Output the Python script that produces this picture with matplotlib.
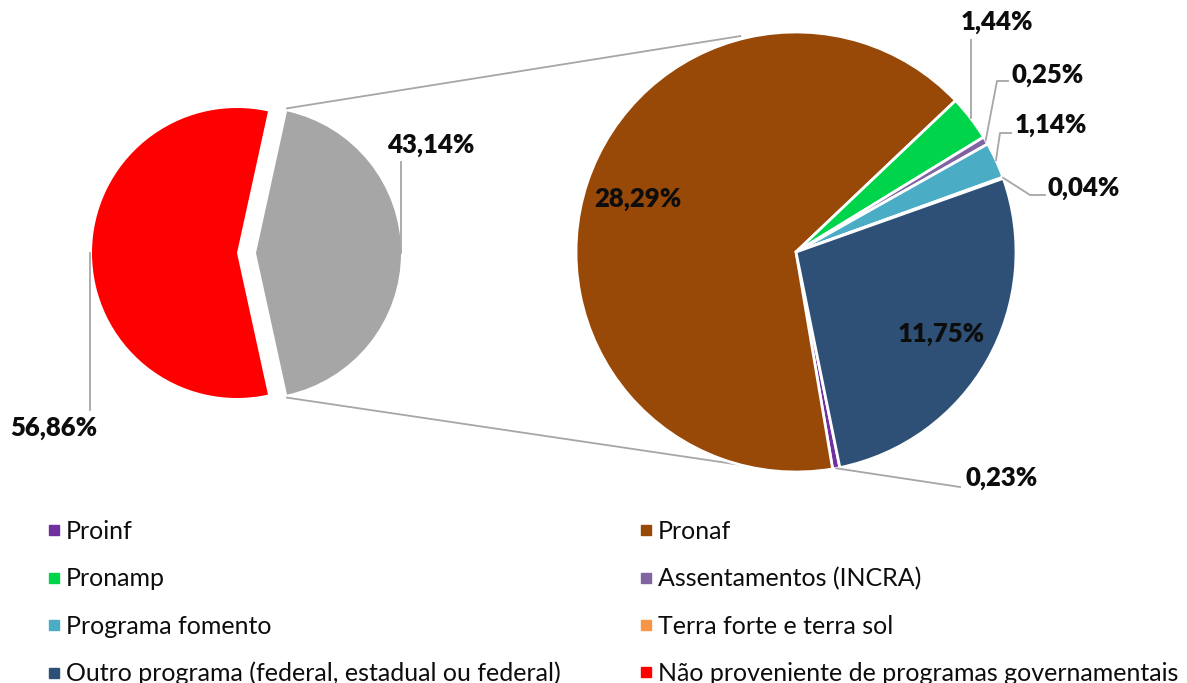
import numpy as np
import matplotlib.pyplot as plt
from matplotlib.lines import Line2D

plt.rcParams["font.family"] = ["Lato", "DejaVu Sans"]

W, H = 1187, 683

MAIN_LABELS = ["Não proveniente de programas governamentais", "Programas governamentais"]
MAIN_VALUES = [56.86, 43.14]
MAIN_COLORS = ["#FF0000", "#A6A6A6"]

SUB_LABELS = [
    "Proinf",
    "Pronaf",
    "Pronamp",
    "Assentamentos (INCRA)",
    "Programa fomento",
    "Terra forte e terra sol",
    "Outro programa (federal, estadual ou federal)",
]
SUB_VALUES = [0.23, 28.29, 1.44, 0.25, 1.14, 0.04, 11.75]
SUB_COLORS = ["#7030A0", "#984807", "#00D44A", "#8064A2", "#4BACC6", "#F79646", "#2E5077"]

LEADER = "#A6A6A6"


def fmt(v):
    return f"{v:.2f}%".replace(".", ",")


def py(y):
    # pixel row -> data y
    return H - y


def on_circle(cx, cy, r, ang):
    a = np.deg2rad(ang)
    return cx + r * np.cos(a), cy + r * np.sin(a)


fig = plt.figure(figsize=(W / 100, H / 100), dpi=100)
ax = fig.add_axes([0, 0, 1, 1])

# main pie (left)
main_r = 145
start = MAIN_VALUES[1] / sum(MAIN_VALUES) * 360 / 2
main_w, _ = ax.pie(MAIN_VALUES, colors=MAIN_COLORS, startangle=start,
                   center=(237, py(253)), radius=main_r, explode=[0, 19],
                   wedgeprops=dict(linewidth=0))

# secondary pie (right)
sub_r = 220
sub_c = (796, py(252))
sub_w, _ = ax.pie(SUB_VALUES, colors=SUB_COLORS, startangle=-78.5, counterclock=False,
                  center=sub_c, radius=sub_r,
                  wedgeprops=dict(edgecolor="white", linewidth=2))


def mid(w):
    return (w.theta1 + w.theta2) / 2


# connector lines between the pies
gray = main_w[1]
gx, gy = gray.center
top0 = on_circle(gx, gy, main_r, gray.theta2)
bot0 = on_circle(gx, gy, main_r, gray.theta1)
top1 = on_circle(*sub_c, sub_r + 3, 104.5)
bot1 = on_circle(*sub_c, sub_r, -104.5)
ax.plot([top0[0], top1[0]], [top0[1] + 3, top1[1]], color=LEADER, lw=1.3, zorder=0)
ax.plot([bot0[0], bot1[0]], [bot0[1] - 3, bot1[1]], color=LEADER, lw=1.3, zorder=0)

lbl = dict(fontsize=18.5, fontweight="heavy", color="#0D0D0D", va="center")

# left pie labels
red = main_w[0]
rx, ry = on_circle(*red.center, main_r, 180)
ax.plot([rx - 2, rx - 2], [ry, py(410)], color=LEADER, lw=1.3)
ax.text(54, py(428), fmt(MAIN_VALUES[0]), ha="center", **lbl)
gx1, gy1 = on_circle(gx, gy, main_r, 0)
ax.plot([gx1, gx1], [gy1, py(162)], color=LEADER, lw=1.3)
ax.text(431, py(145), fmt(MAIN_VALUES[1]), ha="center", **lbl)

# inside labels
for i in (1, 6):
    w = sub_w[i]
    x, y = on_circle(*sub_c, sub_r * 0.76, mid(w))
    ax.text(x, y, fmt(SUB_VALUES[i]), ha="center", **lbl)

# outside labels with leader lines: (index, elbow px, end px, text px, ha)
outside = [
    (2, None, (None, 40), (997, 22), "center"),
    (3, (997, 81), (1008, 81), (1012, 75), "left"),
    (4, (1000, 133), (1011, 133), (1015, 125), "left"),
    (5, (1030, 195), (1045, 195), (1047, 188), "left"),
    (0, None, (960, 487), (965, 478), "left"),
]
for i, elbow, end, tpos, ha in outside:
    x0, y0 = on_circle(*sub_c, sub_r, mid(sub_w[i]))
    xs, ys = [x0], [y0]
    if elbow is not None:
        xs.append(elbow[0])
        ys.append(py(elbow[1]))
    xs.append(x0 if end[0] is None else end[0])
    ys.append(py(end[1]))
    ax.plot(xs, ys, color=LEADER, lw=1.3)
    ax.text(tpos[0], py(tpos[1]), fmt(SUB_VALUES[i]), ha=ha, **lbl)

# legend, filled row by row like the original
entries = list(zip(SUB_LABELS, SUB_COLORS)) + [(MAIN_LABELS[0], MAIN_COLORS[0])]
order = [0, 2, 4, 6, 1, 3, 5, 7]
handles = [Line2D([], [], marker="s", ls="none", ms=6.5, color=entries[k][1]) for k in order]
names = [entries[k][0] for k in order]
fig.legend(handles, names, ncol=2, loc="upper left", bbox_to_anchor=(48 / W, 1 - 520 / H),
           frameon=False, fontsize=18, handlelength=0.5, handletextpad=0.23,
           labelspacing=0.97, columnspacing=3.15, borderpad=0, borderaxespad=0,
           labelcolor="#0D0D0D")

ax.set_xlim(0, W)
ax.set_ylim(0, H)
ax.set_aspect("equal")
ax.axis("off")

fig.savefig("out.png", dpi=100)
